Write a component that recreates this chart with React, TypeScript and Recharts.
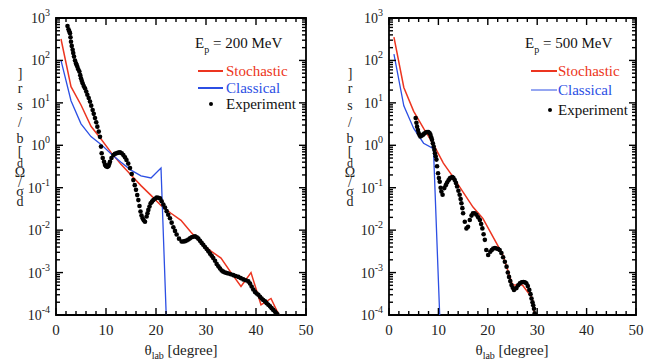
import { ComposedChart, Line, ReferenceArea, Scatter, XAxis, YAxis } from "recharts"

// ---- axis ticks ----
const xMajorTicks = [0, 10, 20, 30, 40, 50]
const xMinorSteps = [2, 4, 6, 8]
const yDecades = [1e-4, 1e-3, 1e-2, 1e-1, 1, 1e1, 1e2, 1e3]
const yMinorFactors = [2, 3, 4, 5, 6, 7, 8, 9]

// ---- Ep = 200 MeV ----
const stoch200X = [1, 3, 5, 7, 9, 11, 13, 15, 17, 19, 21, 23, 25, 27, 29, 31, 33, 35, 37, 39, 41, 43, 45]
const stoch200Y = [320, 24, 8.9, 2.8, 1.4, 0.68, 0.355, 0.2, 0.112, 0.066, 0.038, 0.025, 0.017, 0.0089, 0.005, 0.0032, 0.0022, 0.001, 0.00047, 0.001, 0.000174, 0.000245, 0.000079]
const class200X = [1, 3, 5, 7, 9, 11, 13, 15, 17, 19, 21, 23]
const class200Y = [100, 11.2, 3.2, 1.6, 1.05, 0.63, 0.4, 0.26, 0.19, 0.17, 0.29, 6.3e-8]
const exp200X = [
  2.3, 2.5, 2.65, 2.8, 2.9, 3.0, 3.15, 3.33, 3.45, 3.6, 3.8, 4.0, 4.13, 4.27, 4.45, 4.67, 4.85, 5.0, 5.15, 5.33,
  5.55, 5.8, 6.05, 6.27, 6.55, 6.8, 7.05, 7.33, 7.55, 7.8, 8.05, 8.27, 8.55, 8.8, 9.0, 9.13,
  9.35, 9.6, 9.8, 10.0, 10.25, 10.47, 10.65, 10.8, 11.1, 11.47, 11.8, 12.1, 12.45, 12.8, 13.15, 13.47, 13.8, 14.1,
  14.45, 14.8, 15.15, 15.47, 15.75, 16.0, 16.25, 16.47, 16.7, 16.9, 17.1, 17.33, 17.55, 17.8, 18.13,
  18.3, 18.47, 18.7, 18.93, 19.2, 19.47, 19.8, 20.13, 20.45, 20.8, 21.13, 21.47, 21.8, 22.13, 22.45, 22.8, 23.13,
  23.47, 23.8, 24.13, 24.6, 25.13, 25.45, 25.8, 26.13, 26.47, 26.8, 27.13, 27.45, 27.8,
  28.15, 28.47, 28.8, 29.13, 29.45, 29.8, 30.13, 30.47, 30.8, 31.13, 31.45, 31.8, 32.13, 32.47, 32.8, 33.13, 33.45, 33.8,
  34.13, 34.47, 34.95, 35.47, 35.95, 36.47, 36.95, 37.47, 37.95, 38.47, 38.8, 39.13, 39.45, 39.8,
  40.13, 40.47, 40.8, 41.13, 41.45, 41.8, 42.13, 42.47, 42.8, 43.13, 43.45, 43.8, 44.1, 44.3,
]
const exp200Y = [
  650, 540, 490, 440, 350, 275, 220, 178, 150, 123, 100, 85, 78, 71, 62, 55, 45, 38, 33, 29,
  25, 22, 18.5, 15.5, 13, 10.7, 8.6, 6.8, 5.5, 4.4, 3.5, 2.75, 2.1, 1.58, 0.93, 0.65,
  0.5, 0.41, 0.35, 0.32, 0.31, 0.32, 0.36, 0.41, 0.5, 0.59, 0.63, 0.65, 0.67, 0.68, 0.65, 0.59, 0.52, 0.45,
  0.37, 0.29, 0.21, 0.151, 0.115, 0.089, 0.067, 0.051, 0.037, 0.0275, 0.022, 0.019, 0.017, 0.0158, 0.021,
  0.025, 0.03, 0.036, 0.043, 0.047, 0.051, 0.055, 0.059, 0.058, 0.056, 0.048, 0.04, 0.034, 0.028, 0.023, 0.019, 0.015,
  0.0117, 0.0096, 0.0079, 0.0063, 0.0054, 0.0054, 0.0055, 0.0057, 0.006, 0.0064, 0.0068, 0.007, 0.0072,
  0.0068, 0.0063, 0.0056, 0.005, 0.0045, 0.004, 0.0036, 0.0032, 0.0028, 0.0025, 0.0022, 0.0019, 0.0016, 0.0014, 0.00125, 0.00112, 0.00105, 0.001,
  0.00098, 0.00095, 0.00091, 0.00087, 0.00083, 0.00079, 0.00074, 0.00069, 0.00066, 0.00062, 0.00055, 0.00047, 0.0004, 0.00035,
  0.00032, 0.0003, 0.00027, 0.000245, 0.000225, 0.00021, 0.00019, 0.000174, 0.00016, 0.000145, 0.000132, 0.00012, 0.00011, 0.000102,
]

// ---- Ep = 500 MeV ----
const stoch500X = [1, 3, 5, 7, 9, 11, 13, 15, 17, 19, 21, 23, 25, 27, 29, 31]
const stoch500Y = [355, 23, 6.3, 2.5, 1.05, 0.38, 0.178, 0.079, 0.035, 0.019, 0.0071, 0.0027, 0.00051, 0.00051, 0.00025, 0.000004]
const class500X = [1, 3, 5, 7, 9, 11]
const class500Y = [141, 8.5, 2.5, 1.12, 0.83, 5e-7]
const exp500X = [
  5.4, 5.55, 5.68, 5.85, 6.0, 6.18, 6.35, 6.6, 6.9, 7.15, 7.43, 7.7, 7.97, 8.2, 8.38, 8.55, 8.7, 8.88, 9.05, 9.18, 9.3, 9.45,
  9.6, 9.73, 9.93, 10.1, 10.27, 10.45, 10.6, 10.85, 11.2, 11.5, 11.76,
  12.05, 12.3, 12.6, 12.84, 13.05, 13.3, 13.55, 13.78, 14.05, 14.3, 14.5, 14.66, 14.85, 15.0, 15.34, 15.68, 16.0, 16.35, 16.7, 17.0, 17.35, 17.7,
  18.05, 18.4, 18.65, 18.9, 19.15, 19.4, 19.7,
  20.07, 20.5, 20.8, 21.1, 21.45, 21.76, 22.1, 22.4, 22.75, 23.1, 23.45, 23.8, 24.05, 24.3, 24.55, 24.8, 25.05, 25.3, 25.8, 26.15, 26.5,
  26.85, 27.2, 27.5, 27.8, 28.1, 28.4, 28.65, 28.85, 29.05, 29.2, 29.35, 29.5,
]
const exp500Y = [
  4.4, 3.4, 2.75, 2.3, 1.95, 1.75, 1.62, 1.68, 1.78, 1.9, 2.0, 2.05, 2.05, 1.95, 1.78, 1.55, 1.35, 1.12, 0.93, 0.78, 0.65, 0.55,
  0.46, 0.32, 0.22, 0.17, 0.138, 0.1, 0.081, 0.068, 0.098, 0.115, 0.132,
  0.15, 0.166, 0.174, 0.178, 0.17, 0.151, 0.13, 0.107, 0.085, 0.068, 0.054, 0.043, 0.033, 0.025, 0.0158, 0.011, 0.012, 0.0174, 0.022, 0.025, 0.025, 0.023,
  0.02, 0.0174, 0.014, 0.011, 0.008, 0.0059, 0.0034,
  0.0026, 0.0031, 0.0034, 0.0037, 0.0038, 0.0037, 0.0036, 0.0034, 0.0029, 0.0023, 0.0018, 0.00138, 0.001, 0.00079, 0.00063, 0.00051, 0.00044, 0.00039, 0.00043, 0.0005, 0.00056,
  0.00059, 0.0006, 0.00059, 0.00056, 0.00048, 0.00039, 0.00031, 0.000245, 0.0002, 0.00017, 0.00014, 0.00011,
]

const RED = "#ec3520"
const BLUE = "#2c4fe4"
const FONT = "Liberation Serif, DejaVu Serif, serif"

const zip = (xs: number[], ys: number[]) => xs.map((x, i) => ({ x, y: ys[i] }))

const xTicks = xMajorTicks.flatMap(t => (t < 50 ? [t, ...xMinorSteps.map(s => t + s)] : [t]))
const yTicks = yDecades.flatMap(d => (d < 1e3 ? [d, ...yMinorFactors.map(f => d * f)] : [d]))

const TOP = 18
const BOTTOM = 315

function Panel({ width, plotLeft, plotRight, stoch, classic, exp }: any) {
  const XTick = ({ x, payload }: any) => {
    const major = payload.value % 10 === 0
    const len = major ? 7 : 4
    return (
      <g>
        <line x1={x} x2={x} y1={BOTTOM} y2={BOTTOM - len} stroke="#000" strokeWidth={1.4} />
        <line x1={x} x2={x} y1={TOP} y2={TOP + len} stroke="#000" strokeWidth={1.4} />
        {major && (
          <text x={x} y={BOTTOM + 20} textAnchor="middle" fontSize={15} fontFamily={FONT} fill="#222">
            {payload.value}
          </text>
        )}
      </g>
    )
  }

  const YTick = ({ y, payload }: any) => {
    const lg = Math.log10(payload.value)
    const exp10 = Math.round(lg)
    const major = Math.abs(lg - exp10) < 1e-6
    const len = major ? 7 : 4
    return (
      <g>
        <line x1={plotLeft} x2={plotLeft + len} y1={y} y2={y} stroke="#000" strokeWidth={1.4} />
        <line x1={plotRight} x2={plotRight - len} y1={y} y2={y} stroke="#000" strokeWidth={1.4} />
        {major && (
          <text x={plotLeft - 6} y={y + 5} textAnchor="end" fontSize={14} fontFamily={FONT} fill="#222">
            10<tspan dy={-7} fontSize={10}>{exp10}</tspan>
          </text>
        )}
      </g>
    )
  }

  return (
    <ComposedChart
      width={width}
      height={361}
      margin={{ top: TOP, right: width - plotRight, bottom: 16, left: plotLeft - 50 }}
    >
      <XAxis
        dataKey="x"
        type="number"
        domain={[0, 50]}
        ticks={xTicks}
        interval={0}
        allowDataOverflow
        axisLine={false}
        tickLine={false}
        tickSize={0}
        tickMargin={0}
        height={30}
        tick={XTick}
      />
      <YAxis
        dataKey="y"
        type="number"
        scale="log"
        domain={[1e-4, 1e3]}
        ticks={yTicks}
        interval={0}
        allowDataOverflow
        axisLine={false}
        tickLine={false}
        tickSize={0}
        tickMargin={0}
        width={50}
        tick={YTick}
      />
      <Line data={stoch} dataKey="y" type="linear" stroke={RED} strokeWidth={1.5} dot={false} isAnimationActive={false} />
      <Line data={classic} dataKey="y" type="linear" stroke={BLUE} strokeWidth={1.3} dot={false} isAnimationActive={false} />
      <Scatter
        data={exp}
        fill="#000"
        isAnimationActive={false}
        shape={(p: any) => <circle cx={p.cx} cy={p.cy} r={2.3} fill="#000" />}
      />
      <ReferenceArea x1={0} x2={50} y1={1e-4} y2={1e3} fill="none" stroke="#000" strokeWidth={1.8} />
    </ComposedChart>
  )
}

const yLabelChars = ["]", "r", "s", "/", "b", "[", "d", "Ω", "/", "σ", "d"]
const yLabelBase = [78, 93, 110, 127, 143, 156, 167, 177, 187, 196, 206]

function Annotations({ ox, plotCenter, energy, rows }: any) {
  return (
    <g fontFamily={FONT}>
      {yLabelChars.map((c, i) => (
        <text key={i} x={ox + 20} y={yLabelBase[i]} textAnchor="middle" fontSize={i === 6 ? 12 : 14} fill="#222">
          {c}
        </text>
      ))}
      <text x={plotCenter} y={355} textAnchor="middle" fontSize={15} fill="#222">
        θ<tspan fontSize={10} dy={4}>lab</tspan>
        <tspan dy={-4}> [degree]</tspan>
      </text>
      <text x={ox + 195} y={48} fontSize={15} fill="#111">
        E<tspan fontSize={10} dy={5}>p</tspan>
        <tspan dy={-5}>{` = ${energy} MeV`}</tspan>
      </text>
      <line x1={ox + rows.lx1} x2={ox + rows.lx2} y1={rows.y[0]} y2={rows.y[0]} stroke={RED} strokeWidth={2} />
      <text x={ox + rows.tx} y={rows.y[0] + 5} fontSize={15} fill={RED}>Stochastic</text>
      <line x1={ox + rows.lx1} x2={ox + rows.lx2} y1={rows.y[1]} y2={rows.y[1]} stroke={BLUE} strokeWidth={rows.bw} />
      <text x={ox + rows.tx} y={rows.y[1] + 5} fontSize={15} fill={BLUE}>Classical</text>
      <circle cx={ox + rows.dx} cy={rows.y[2]} r={2} fill="#000" />
      <text x={ox + rows.tx} y={rows.y[2] + 5} fontSize={15} fill="#111">Experiment</text>
    </g>
  )
}

export default function App() {
  return (
    <div style={{ position: "absolute", left: 0, top: 0, width: 657, height: 361, background: "#fff" }}>
      <div style={{ position: "absolute", left: 0, top: 0 }}>
        <Panel
          width={330}
          plotLeft={56}
          plotRight={306}
          stoch={zip(stoch200X, stoch200Y)}
          classic={zip(class200X, class200Y)}
          exp={zip(exp200X, exp200Y)}
        />
      </div>
      <div style={{ position: "absolute", left: 330, top: 0 }}>
        <Panel
          width={327}
          plotLeft={59}
          plotRight={306}
          stoch={zip(stoch500X, stoch500Y)}
          classic={zip(class500X, class500Y)}
          exp={zip(exp500X, exp500Y)}
        />
      </div>
      <svg width={657} height={361} style={{ position: "absolute", left: 0, top: 0, pointerEvents: "none" }}>
        <Annotations
          ox={0}
          plotCenter={181}
          energy={200}
          rows={{ lx1: 198, lx2: 223, tx: 226, dx: 211, y: [71, 88, 104], bw: 2 }}
        />
        <Annotations
          ox={330}
          plotCenter={512}
          energy={500}
          rows={{ lx1: 201, lx2: 227, tx: 228, dx: 220, y: [71, 90, 110], bw: 1 }}
        />
      </svg>
    </div>
  )
}
